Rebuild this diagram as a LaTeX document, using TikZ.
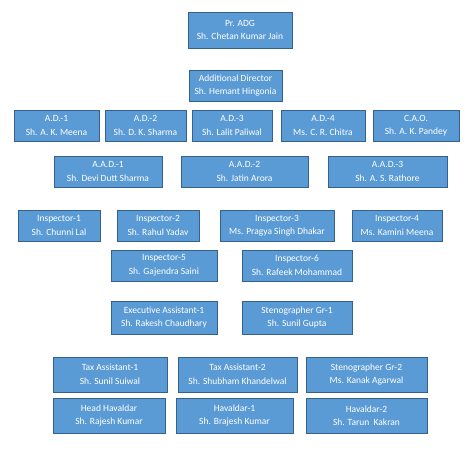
\documentclass[tikz,border=0pt]{standalone}
\usepackage{fontspec}
\setmainfont{Carlito}
\definecolor{boxfill}{HTML}{5B9BD5}
\definecolor{boxline}{HTML}{35618C}
\begin{document}
\begin{tikzpicture}[x=1pt,y=-1pt,
  post/.style={draw=boxline,line width=0.9pt,fill=boxfill,text=white,align=center,inner sep=0pt,
    font=\fontsize{9.5}{13.5}\selectfont}]
\useasboundingbox (0,0) rectangle (474,454);
\node[post,minimum width=104,minimum height=36] (adg) at (240,30) {Pr. ADG\\Sh. Chetan Kumar Jain};
\node[post,minimum width=93,minimum height=31] (addl) at (235.5,85.5) {Additional Director\\Sh. Hemant Hingonia};
% A.D. row
\node[post,minimum width=85,minimum height=31] (ad1) at (56.5,125.5) {A.D.-1\\Sh. A. K. Meena};
\node[post,minimum width=81,minimum height=31] (ad2) at (145.5,125.5) {A.D.-2\\Sh. D. K. Sharma};
\node[post,minimum width=80,minimum height=31] (ad3) at (232,125.5) {A.D.-3\\Sh. Lalit Paliwal};
\node[post,minimum width=84,minimum height=31] (ad4) at (323,125.5) {A.D.-4\\Ms. C. R. Chitra};
\node[post,minimum width=86,minimum height=31] (cao) at (416,125.5) {C.A.O.\\Sh. A. K. Pandey};
% A.A.D. row
\node[post,minimum width=108,minimum height=31] (aad1) at (108,171.5) {A.A.D.-1\\Sh. Devi Dutt Sharma};
\node[post,minimum width=127,minimum height=31] (aad2) at (244.5,171.5) {A.A.D.-2\\Sh. Jatin Arora};
\node[post,minimum width=119,minimum height=31] (aad3) at (387.5,171.5) {A.A.D.-3\\Sh. A. S. Rathore};
% inspectors
\node[post,minimum width=82,minimum height=31] (insp1) at (59,225.5) {Inspector-1\\Sh. Chunni Lal};
\node[post,minimum width=82,minimum height=31] (insp2) at (158,225.5) {Inspector-2\\Sh. Rahul Yadav};
\node[post,minimum width=114,minimum height=31] (insp3) at (277,225.5) {Inspector-3\\Ms. Pragya Singh Dhakar};
\node[post,minimum width=90,minimum height=31] (insp4) at (397,225.5) {Inspector-4\\Ms. Kamini Meena};
\node[post,minimum width=106,minimum height=31] (insp5) at (164,265.5) {Inspector-5\\Sh. Gajendra Saini};
\node[post,minimum width=110,minimum height=31] (insp6) at (297,265.5) {Inspector-6\\Sh. Rafeek Mohammad};
% staff
\node[post,minimum width=106,minimum height=33] (ea1) at (164,317.5) {Executive Assistant-1\\Sh. Rakesh Chaudhary};
\node[post,minimum width=110,minimum height=33] (steno1) at (297,317.5) {Stenographer Gr-1\\Sh. Sunil Gupta};
\node[post,minimum width=114,minimum height=35] (ta1) at (110,374.5) {Tax Assistant-1\\Sh. Sunil Suiwal};
\node[post,minimum width=119,minimum height=35] (ta2) at (237.5,374.5) {Tax Assistant-2\\Sh. Shubham Khandelwal};
\node[post,minimum width=121,minimum height=35] (steno2) at (366.5,374.5) {Stenographer Gr-2\\Ms. Kanak Agarwal};
\node[post,minimum width=112,minimum height=35] (hh) at (109,415.5) {Head Havaldar\\Sh. Rajesh Kumar};
\node[post,minimum width=117,minimum height=35] (hav1) at (234.5,415.5) {Havaldar-1\\Sh. Brajesh Kumar};
\node[post,minimum width=121,minimum height=35] (hav2) at (366.5,415.5) {Havaldar-2\\Sh. Tarun\ \ Kakran};
\end{tikzpicture}
\end{document}
